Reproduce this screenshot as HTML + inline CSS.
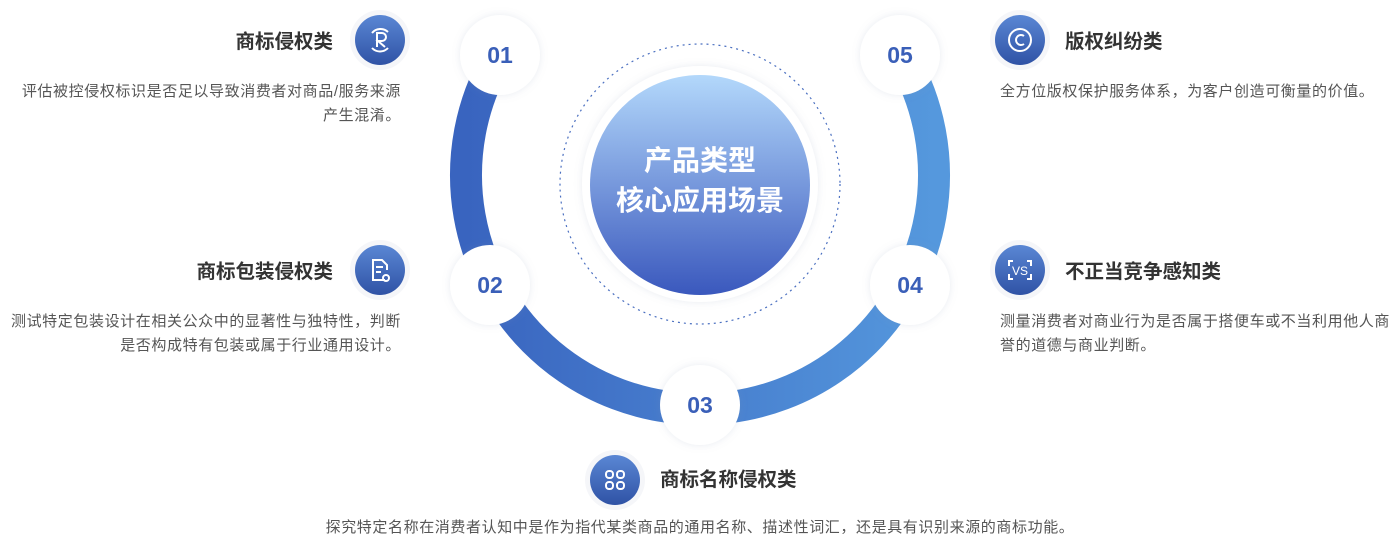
<!DOCTYPE html>
<html><head><meta charset="utf-8"><style>
html,body{margin:0;padding:0;background:#fff;}
body{width:1400px;height:537px;position:relative;overflow:hidden;font-family:"Liberation Sans","Noto Sans CJK SC",sans-serif;}
.t{position:absolute;font-size:19.5px;font-weight:bold;color:#333;white-space:nowrap;line-height:24px;}
.d{position:absolute;font-size:15px;letter-spacing:0.6px;color:#555;white-space:nowrap;line-height:24px;}
.r{text-align:right;}
</style></head><body>
<svg width="1400" height="537" style="position:absolute;left:0;top:0">
<defs>
<linearGradient id="rg" x1="0" x2="1" y1="0" y2="0"><stop offset="0" stop-color="#3964bf"/><stop offset="1" stop-color="#5598dd"/></linearGradient>
<linearGradient id="cg" x1="0" x2="0" y1="0" y2="1"><stop offset="0" stop-color="#b3d8fb"/><stop offset="1" stop-color="#3a58bd"/></linearGradient>
<linearGradient id="ig" x1="0" x2="0" y1="0" y2="1"><stop offset="0" stop-color="#5a87d4"/><stop offset="1" stop-color="#2f52a5"/></linearGradient>
<filter id="sh" x="-30%" y="-30%" width="160%" height="160%"><feDropShadow dx="0" dy="0" stdDeviation="4" flood-color="#8090b0" flood-opacity="0.18"/></filter>
</defs>
<path d="M 497.4 58 A 234 234 0 1 0 902.6 58" fill="none" stroke="url(#rg)" stroke-width="32"/>
<circle cx="700" cy="184" r="140" fill="none" stroke="#4a6fc0" stroke-width="1.2" stroke-dasharray="2 4"/>
<circle cx="700" cy="184" r="118" fill="#fff" filter="url(#sh)"/>
<circle cx="700" cy="185" r="110" fill="url(#cg)"/>
<text x="700" y="170" text-anchor="middle" font-size="28" font-weight="bold" fill="#fff" font-family="Liberation Sans,Noto Sans CJK SC,sans-serif">产品类型</text>
<text x="700" y="210" text-anchor="middle" font-size="28" font-weight="bold" fill="#fff" font-family="Liberation Sans,Noto Sans CJK SC,sans-serif">核心应用场景</text>
<g font-family="Liberation Sans,sans-serif" font-size="23" font-weight="bold" fill="#3a5fb8" text-anchor="middle">
<circle cx="500" cy="55" r="40" fill="#fff" filter="url(#sh)"/><text x="500" y="63">01</text>
<circle cx="900" cy="55" r="40" fill="#fff" filter="url(#sh)"/><text x="900" y="63">05</text>
<circle cx="490" cy="285" r="40" fill="#fff" filter="url(#sh)"/><text x="490" y="293">02</text>
<circle cx="910" cy="285" r="40" fill="#fff" filter="url(#sh)"/><text x="910" y="293">04</text>
<circle cx="700" cy="405" r="40" fill="#fff" filter="url(#sh)"/><text x="700" y="413">03</text>
</g>
<g stroke="#fff" fill="none" stroke-width="2">
<circle cx="380" cy="40" r="30" fill="#f5f6f9" stroke="none"/><circle cx="380" cy="40" r="25" fill="url(#ig)" stroke="none"/>
<path d="M372 33 A11 11 0 0 1 388 32 M388 48 A11 11 0 0 1 372 48"/><path d="M377 47 V33 h5 a4 4 0 0 1 0 8 h-4 l7 6"/>
<circle cx="380" cy="270" r="30" fill="#f5f6f9" stroke="none"/><circle cx="380" cy="270" r="25" fill="url(#ig)" stroke="none"/>
<path d="M385 280 h-12 v-20 h9 l5 5 v5 M376 267 h7 M376 272 h5"/><circle cx="386" cy="278" r="3"/>
<circle cx="1020" cy="40" r="30" fill="#f5f6f9" stroke="none"/><circle cx="1020" cy="40" r="25" fill="url(#ig)" stroke="none"/>
<circle cx="1020" cy="40" r="11"/><path d="M1024 36 a5 5 0 1 0 0 8"/>
<circle cx="1020" cy="270" r="30" fill="#f5f6f9" stroke="none"/><circle cx="1020" cy="270" r="25" fill="url(#ig)" stroke="none"/>
<path d="M1013 261 h-4 v5 M1027 261 h4 v5 M1013 279 h-4 v-5 M1027 279 h4 v-5"/>
<circle cx="615" cy="480" r="30" fill="#f5f6f9" stroke="none"/><circle cx="615" cy="480" r="25" fill="url(#ig)" stroke="none"/>
<rect x="606" y="471" width="7" height="7" rx="3"/><rect x="617" y="471" width="7" height="7" rx="3"/><rect x="606" y="482" width="7" height="7" rx="3"/><rect x="617" y="482" width="7" height="7" rx="3"/>
</g>
<text x="1020" y="275" text-anchor="middle" font-size="12" fill="#fff" font-family="Liberation Sans,sans-serif">VS</text>
</svg>
<div class="t r" style="right:1067px;top:30px">商标侵权类</div>
<div class="d r" style="right:999px;top:80px">评估被控侵权标识是否足以导致消费者对商品/服务来源<br>产生混淆。</div>
<div class="t r" style="right:1067px;top:260px">商标包装侵权类</div>
<div class="d r" style="right:999px;top:310px">测试特定包装设计在相关公众中的显著性与独特性，判断<br>是否构成特有包装或属于行业通用设计。</div>
<div class="t" style="left:1065px;top:30px">版权纠纷类</div>
<div class="d" style="left:1000px;top:80px">全方位版权保护服务体系，为客户创造可衡量的价值。</div>
<div class="t" style="left:1065px;top:260px">不正当竞争感知类</div>
<div class="d" style="left:1000px;top:310px">测量消费者对商业行为是否属于搭便车或不当利用他人商<br>誉的道德与商业判断。</div>
<div class="t" style="left:660px;top:468px">商标名称侵权类</div>
<div class="d" style="left:0;width:1400px;text-align:center;top:516px">探究特定名称在消费者认知中是作为指代某类商品的通用名称、描述性词汇，还是具有识别来源的商标功能。</div>
</body></html>
